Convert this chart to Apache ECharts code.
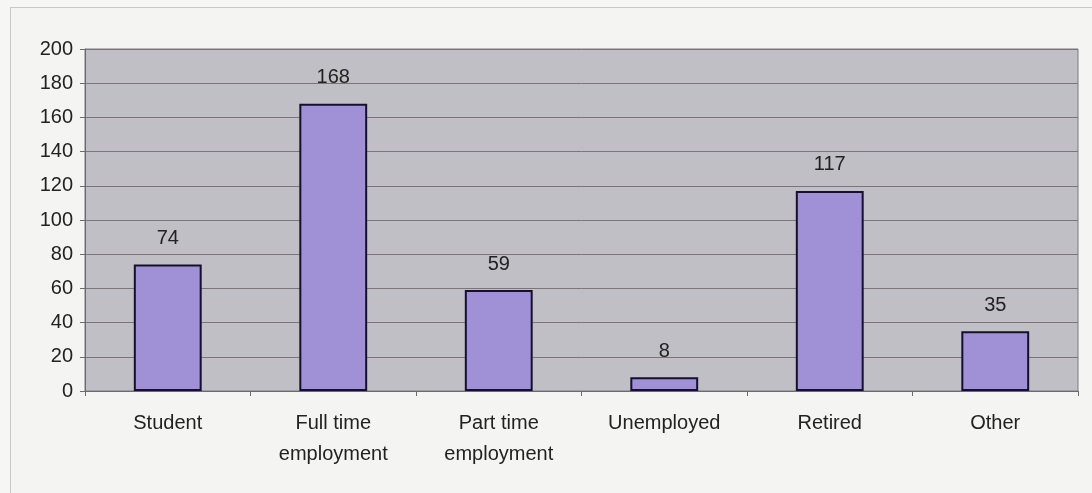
<!DOCTYPE html>
<html><head><meta charset="utf-8">
<script src="https://cdn.jsdelivr.net/npm/echarts@6/dist/echarts.min.js"></script>
<style>
html,body{margin:0;padding:0;background:#f6f6f4;}
#frame{position:absolute;left:10px;top:7px;width:1090px;height:490px;border:1px solid #c8c8cc;box-sizing:border-box;background:#f4f4f2;}
#c{position:absolute;left:0;top:0;width:1092px;height:493px;}
</style></head>
<body>
<div id="frame"></div>
<div id="c"></div>
<script>
const categories = ['Student', 'Full time\nemployment', 'Part time\nemployment', 'Unemployed', 'Retired', 'Other'];
const values = [74, 168, 59, 8, 117, 35];
const yTicks = [0, 20, 40, 60, 80, 100, 120, 140, 160, 180, 200];

const chart = echarts.init(document.getElementById('c'), null, {renderer: 'canvas'});
chart.setOption({
  animation: false,
  backgroundColor: 'transparent',
  grid: {left: 85, right: 14, top: 49, bottom: 102, show: true, backgroundColor: '#bfbfc5', borderColor: '#7a7a80', borderWidth: 1},
  xAxis: {
    type: 'category', data: categories,
    axisLine: {show: true, lineStyle: {color: '#6a6a70', width: 1}},
    axisTick: {show: true, alignWithLabel: false, length: 5, lineStyle: {color: '#6a6a70'}},
    axisLabel: {color: '#222', fontFamily: 'Liberation Sans, Arial', fontSize: 20, lineHeight: 31, margin: 17}
  },
  yAxis: {
    type: 'value', min: yTicks[0], max: yTicks[yTicks.length - 1], interval: 20,
    axisLine: {show: true, lineStyle: {color: '#6a6a70'}},
    axisTick: {show: true, length: 5, lineStyle: {color: '#6a6a70'}},
    axisLabel: {color: '#222', fontFamily: 'Liberation Sans, Arial', fontSize: 20, margin: 12},
    splitLine: {show: true, lineStyle: {color: '#7e7478', width: 1}}
  },
  series: [{
    type: 'bar', data: values, barWidth: '41%',
    itemStyle: {color: '#a090d6', borderColor: '#151030', borderWidth: 2},
    label: {show: true, position: 'top', distance: 16, color: '#222', fontFamily: 'Liberation Sans, Arial', fontSize: 20}
  }]
});
</script>
</body></html>
